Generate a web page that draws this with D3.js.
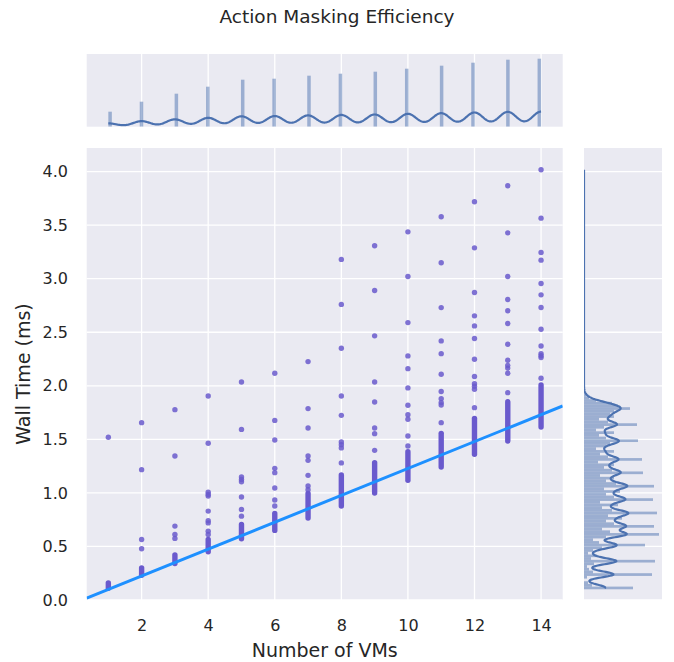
<!DOCTYPE html>
<html>
<head>
<meta charset="utf-8">
<script src="https://cdn.jsdelivr.net/npm/d3@7"></script>
<style>
  body { margin: 0; background: #fff; }
  svg text { font-family: "DejaVu Sans", sans-serif; fill: #262626; }
</style>
</head>
<body>
<svg id="chart" width="674" height="662"></svg>
<script>
// number of VMs
const vms = [1, 2, 3, 4, 5, 6, 7, 8, 9, 10, 11, 12, 13, 14];
// dense block of runs at each VM count (wall time, ms)
const clusterLow = [0.11, 0.23, 0.34, 0.45, 0.572, 0.65, 0.765, 0.877, 0.998, 1.117, 1.241, 1.36, 1.484, 1.615];
const clusterHigh = [0.16, 0.30, 0.42, 0.565, 0.706, 0.808, 0.995, 1.167, 1.282, 1.385, 1.556, 1.696, 1.852, 2.008];
// slower runs above each block
const outliers = [
  [1.52],
  [1.656, 1.217, 0.565, 0.478],
  [1.777, 1.344, 0.69, 0.612, 0.575],
  [1.905, 1.463, 1.007, 0.985, 0.97, 0.83, 0.74, 0.72, 0.643, 0.612],
  [2.036, 1.593, 1.148, 1.126, 1.104, 0.961, 0.846, 0.783],
  [2.117, 1.677, 1.494, 1.229, 1.189, 1.045, 0.933, 0.877],
  [2.226, 1.787, 1.606, 1.344, 1.304, 1.164, 1.064, 1.03],
  [3.18, 2.76, 2.35, 1.905, 1.724, 1.475, 1.45, 1.42, 1.28],
  [3.307, 2.89, 2.466, 2.036, 1.849, 1.606, 1.553, 1.397],
  [3.437, 3.02, 2.59, 2.279, 2.16, 1.98, 1.818, 1.73, 1.687, 1.531, 1.438],
  [3.578, 3.148, 2.73, 2.419, 2.30, 2.107, 1.946, 1.88, 1.843, 1.82, 1.656],
  [3.718, 3.288, 2.871, 2.653, 2.559, 2.441, 2.248, 2.086, 2.02, 1.995, 1.967, 1.796],
  [3.867, 3.428, 3.02, 2.805, 2.70, 2.581, 2.388, 2.238, 2.19, 2.165, 2.117, 1.936],
  [4.017, 3.565, 3.245, 3.173, 2.955, 2.849, 2.731, 2.528, 2.372, 2.30, 2.28, 2.264, 2.07]
];
// linear fit
const fitSlope = 0.1255;
const fitIntercept = -0.027;

// top marginal: count of runs per VM value
const vmCounts = [15, 25, 33, 40, 47, 48, 51, 53, 55, 58, 61, 64, 67, 68];
// right marginal: wall time histogram
const timeBinStart = 0.1;
const timeBinWidth = 0.025;
const timeCounts = [
  49, 8, 4, 0,   3, 68, 9, 5,   3, 10, 71, 7,   12, 4, 9, 18,
  61, 15, 9, 22, 75, 26, 18, 70, 30, 22, 38, 24, 73, 28, 18, 34,
  16, 69, 30, 22, 36, 20, 70, 32, 22, 30, 16, 59, 28, 20, 30, 14,
  58, 24, 16, 30, 12, 22, 26, 54, 22, 15, 30, 12, 20, 53, 24, 15,
  30, 26, 30, 46, 34, 28, 12, 5,  2, 1
];

const xTicks = [2, 4, 6, 8, 10, 12, 14];
const yTicks = [0, 0.5, 1, 1.5, 2, 2.5, 3, 3.5, 4];

const bg = "#eaeaf2";
const histColor = "#4c72b0";
const pointColor = "#6a5acd";
const fitColor = "#1e90ff";

const svg = d3.select("#chart");
const main = { left: 86.7, right: 562.7, top: 148, bottom: 600 };
const topM = { top: 54, bottom: 126.7 };
const side = { left: 584, right: 662 };

const x = d3.scaleLinear().domain([0.35, 14.65]).range([main.left, main.right]);
const y = d3.scaleLinear().domain([0, 4.22]).range([main.bottom, main.top]);
const yTop = d3.scaleLinear().domain([0, 72.7]).range([topM.bottom, topM.top]);
const xSide = d3.scaleLinear().domain([0, 78]).range([side.left, side.right]);

function gauss(d, h) {
  return Math.exp(-d * d / (2 * h * h)) / (h * Math.sqrt(2 * Math.PI));
}

// clip paths
const defs = svg.append("defs");
function clip(id, x0, y0, w, h) {
  defs.append("clipPath").attr("id", id).append("rect")
    .attr("x", x0).attr("y", y0).attr("width", w).attr("height", h);
}
clip("clipMain", main.left, main.top, main.right - main.left, main.bottom - main.top);
clip("clipTop", main.left, topM.top, main.right - main.left, topM.bottom - topM.top);
clip("clipSide", side.left, main.top, side.right - side.left, main.bottom - main.top);

// panel backgrounds
svg.append("rect").attr("x", main.left).attr("y", main.top)
  .attr("width", main.right - main.left).attr("height", main.bottom - main.top).attr("fill", bg);
svg.append("rect").attr("x", main.left).attr("y", topM.top)
  .attr("width", main.right - main.left).attr("height", topM.bottom - topM.top).attr("fill", bg);
svg.append("rect").attr("x", side.left).attr("y", main.top)
  .attr("width", side.right - side.left).attr("height", main.bottom - main.top).attr("fill", bg);

// grid lines
const grid = svg.append("g").attr("stroke", "#fff").attr("stroke-width", 1.3);
xTicks.forEach(function (t) {
  grid.append("line").attr("x1", x(t)).attr("x2", x(t)).attr("y1", main.top).attr("y2", main.bottom);
  grid.append("line").attr("x1", x(t)).attr("x2", x(t)).attr("y1", topM.top).attr("y2", topM.bottom);
});
yTicks.forEach(function (t) {
  grid.append("line").attr("x1", main.left).attr("x2", main.right).attr("y1", y(t)).attr("y2", y(t));
  grid.append("line").attr("x1", side.left).attr("x2", side.right).attr("y1", y(t)).attr("y2", y(t));
});

// scatter: dense blocks then single points
const plot = svg.append("g").attr("clip-path", "url(#clipMain)");
plot.selectAll(".block").data(vms).enter().append("line")
  .attr("x1", d => x(d)).attr("x2", d => x(d))
  .attr("y1", (d, i) => y(clusterLow[i])).attr("y2", (d, i) => y(clusterHigh[i]))
  .attr("stroke", pointColor).attr("stroke-width", 5.4).attr("stroke-linecap", "round");

let pts = [];
vms.forEach(function (v, i) {
  outliers[i].forEach(function (t) { pts.push([v, t]); });
});
plot.selectAll(".pt").data(pts).enter().append("circle")
  .attr("cx", d => x(d[0])).attr("cy", d => y(d[1])).attr("r", 2.7)
  .attr("fill", pointColor).attr("fill-opacity", 0.85);

// fit line
const xd = x.domain();
plot.append("line")
  .attr("x1", x(xd[0])).attr("y1", y(fitIntercept + fitSlope * xd[0]))
  .attr("x2", x(xd[1])).attr("y2", y(fitIntercept + fitSlope * xd[1]))
  .attr("stroke", fitColor).attr("stroke-width", 3);

// top marginal histogram
const nBins = 124;
const binW = (d3.max(vms) - d3.min(vms)) / nBins;
const topG = svg.append("g").attr("clip-path", "url(#clipTop)");
topG.selectAll(".bar").data(vms).enter().append("rect")
  .attr("x", function (d) {
    let idx = Math.min(nBins - 1, Math.floor((d - 1) / binW + 1e-9));
    return x(1 + idx * binW);
  })
  .attr("width", x(1 + binW) - x(1))
  .attr("y", (d, i) => yTop(vmCounts[i]))
  .attr("height", (d, i) => yTop(0) - yTop(vmCounts[i]))
  .attr("fill", histColor).attr("fill-opacity", 0.5);

// top kde
const topKdeScale = 0.15;
const topKde = d3.range(1, 14.001, 0.02).map(function (v) {
  let s = 0;
  vms.forEach(function (c, i) { s += vmCounts[i] * topKdeScale * gauss(v - c, 0.27); });
  return [v, s];
});
topG.append("path").datum(topKde)
  .attr("d", d3.line().x(d => x(d[0])).y(d => yTop(d[1])))
  .attr("fill", "none").attr("stroke", histColor).attr("stroke-width", 2.2);

// right marginal histogram
const sideG = svg.append("g").attr("clip-path", "url(#clipSide)");
sideG.selectAll(".hbar").data(timeCounts).enter().append("rect")
  .attr("x", side.left)
  .attr("y", (d, i) => y(timeBinStart + (i + 1) * timeBinWidth))
  .attr("height", (d, i) => y(timeBinStart + i * timeBinWidth) - y(timeBinStart + (i + 1) * timeBinWidth))
  .attr("width", d => xSide(d) - side.left)
  .attr("fill", histColor).attr("fill-opacity", 0.5);

// right kde, from the lowest to the highest run
const tMin = d3.min(clusterLow);
const tMax = d3.max(outliers, o => d3.max(o));
const sideKde = d3.range(tMin, tMax, 0.004).concat([tMax]).map(function (t) {
  let s = 0;
  timeCounts.forEach(function (c, i) {
    s += c * timeBinWidth * gauss(t - (timeBinStart + (i + 0.5) * timeBinWidth), 0.026);
  });
  return [t, s];
});
sideG.append("path").datum(sideKde)
  .attr("d", d3.line().x(d => xSide(d[1])).y(d => y(d[0])))
  .attr("fill", "none").attr("stroke", histColor).attr("stroke-width", 2.2);

// axes (labels only, seaborn darkgrid style)
const xAxis = svg.append("g").attr("transform", "translate(0," + main.bottom + ")")
  .call(d3.axisBottom(x).tickValues(xTicks).tickSize(0).tickPadding(20).tickFormat(d3.format("d")));
const yAxis = svg.append("g").attr("transform", "translate(" + main.left + ",0)")
  .call(d3.axisLeft(y).tickValues(yTicks).tickSize(0).tickPadding(18.7).tickFormat(d3.format(".1f")));
[xAxis, yAxis].forEach(function (a) {
  a.select(".domain").remove();
  a.selectAll("text").attr("font-size", 16).attr("font-family", null).style("fill", "#262626");
});

// titles
svg.append("text").attr("x", 337).attr("y", 23).attr("text-anchor", "middle")
  .attr("font-size", 18.5).text("Action Masking Efficiency");
svg.append("text").attr("x", (main.left + main.right) / 2).attr("y", 657).attr("text-anchor", "middle")
  .attr("font-size", 19).text("Number of VMs");
svg.append("text").attr("transform", "translate(30," + (main.top + main.bottom) / 2 + ") rotate(-90)")
  .attr("text-anchor", "middle").attr("font-size", 19).text("Wall Time (ms)");
</script>
</body>
</html>
